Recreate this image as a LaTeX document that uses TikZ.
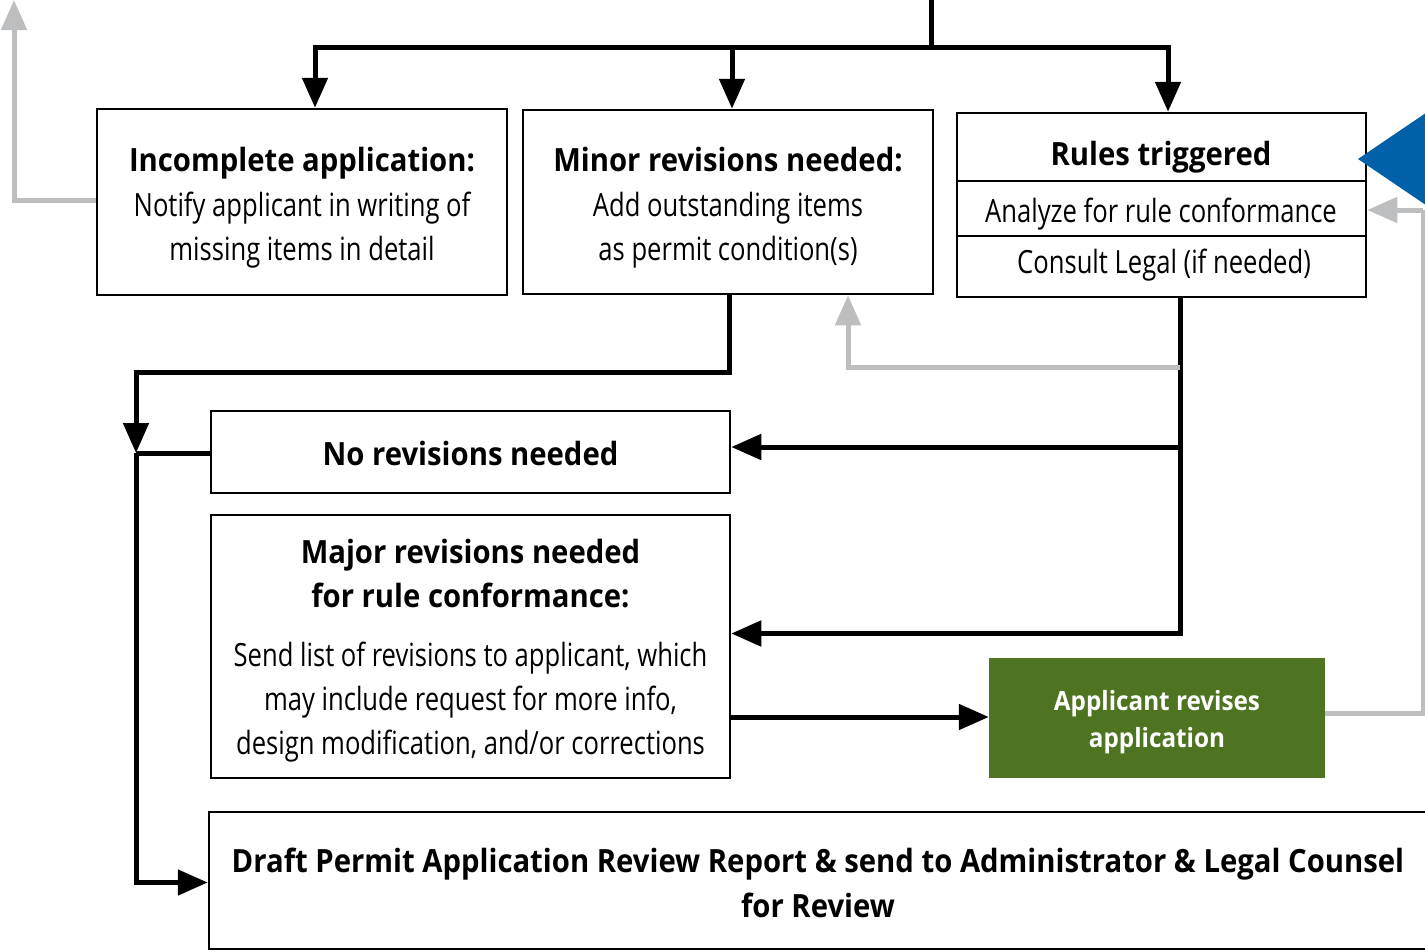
\documentclass[tikz,border=0pt]{standalone}
\usepackage{fontspec}
\setmainfont{Open Sans}
\newfontfamily\hdfont{Open Sans}[FakeStretch=0.915]
\newfontfamily\bdfont{Open Sans}[FakeStretch=0.80]
\newcommand\mytitle[1]{{\hdfont\bfseries #1}}
\usetikzlibrary{arrows.meta,calc}
\definecolor{grn}{HTML}{4E7421}
\definecolor{gry}{HTML}{BDBEC0}
\definecolor{blu}{HTML}{0060A8}
\begin{document}
\begin{tikzpicture}[x=1pt,y=-1pt,
  box/.style={draw,line width=2.5pt,inner sep=0pt},
  txt/.style={align=center,inner sep=0pt,font=\fontsize{32}{44}\selectfont\bdfont},
  htxt/.style={align=center,inner sep=0pt,font=\fontsize{32}{44}\selectfont\hdfont\bfseries},
  ln/.style={line width=5pt},
  conn/.style={line width=5pt,-{Triangle[length=30pt,width=25pt]}},
  gconn/.style={line width=5pt,draw=gry,-{Triangle[length=30pt,width=25pt,color=gry]}},
  gln/.style={line width=5pt,draw=gry}
]
\useasboundingbox (0,0) rectangle (1425,951);

% boxes
\node[box,minimum width=410pt,minimum height=186pt] (inc) at (302,202) {};
\node[txt] (inctxt) at (302,207.5)
  {\mytitle{Incomplete application:}\\[1pt]Notify applicant in writing of\\missing items in detail};
\node[box,minimum width=410pt,minimum height=184pt] (minor) at (728,202) {};
\node[txt] (minortxt) at (728,207.5)
  {\mytitle{Minor revisions needed:}\\[1pt]Add outstanding items\\as permit condition(s)};
\node[box,minimum width=409pt,minimum height=184pt] (rules) at (1161.5,205) {};
\draw[line width=1.5pt] (957,181) -- (1366,181);
\draw[line width=1.5pt] (957,236) -- (1366,236);
\node[htxt,anchor=base] (rt) at (1161,165) {Rules triggered};
\node[txt,anchor=base] (ra) at (1161,222) {Analyze for rule conformance};
\node[txt,anchor=base] (rc) at (1164,273) {Consult Legal (if needed)};

\node[box,minimum width=519pt,minimum height=82pt] (norev) at (470.5,452) {};
\node[htxt] (norevtxt) at (470.5,453) {No revisions needed};
\node[box,minimum width=519pt,minimum height=263pt] (major) at (470.5,646.5) {};
\node[txt] (majortxt) at (470.5,651)
  {\mytitle{Major revisions needed}\\\mytitle{for rule conformance:}\\[15pt]Send list of revisions to applicant, which\\may include request for more info,\\design modification, and/or corrections};
\node[fill=grn,inner sep=0pt,minimum width=336pt,minimum height=120pt] (app) at (1157,718) {};
\node[htxt,text=white,font=\fontsize{26.5}{37}\selectfont\hdfont\bfseries] (apptxt) at (1157,722.5)
  {Applicant revises\\application};
\node[box,minimum width=1218pt,minimum height=137pt] (draft) at (818,880.5) {};
\node[htxt,font=\fontsize{32}{45}\selectfont\hdfont\bfseries] (drafttxt) at (818,882.5)
  {Draft Permit Application Review Report \& send to Administrator \& Legal Counsel\\for Review};

% blue triangle
\fill[blu] (1358,159) -- (1445,100) -- (1445,218) -- cycle;

% top distribution
\coordinate (topin) at (931,-5);
\coordinate (bus) at (931,47);
\draw[ln] (topin) -- (bus);
\draw[conn] (bus) -| ([xshift=13pt]inc.north);
\draw[conn] (bus) -| ([xshift=4pt]minor.north);
\draw[conn] (bus) -| ([xshift=6.5pt]rules.north);

% gray exit left
\coordinate (exitL) at (14,0);
\draw[gconn] ([yshift=2pt]inc.west) -| (exitL);

% left trunk
\coordinate (j) at (136,453);
\draw[conn] ([xshift=1pt]minor.south) |- (136,372) -- (j);
\draw[ln] ([yshift=-1pt]norev.west) -- (j);
\draw[conn] (j) |- ([yshift=-2pt]draft.west);

% rules trunk
\coordinate (rb) at (1180,447);
\draw[conn] ([xshift=18.5pt]rules.south) |- ([yshift=13pt]major.east);
\draw[conn] (rb) -- (norev.east |- rb);
\coordinate (rg) at (1180,367);
\draw[gconn] (rg) -| ([xshift=120pt]minor.south);

% major to applicant
\draw[conn] (major.east |- 0,717) -- (app.west |- 0,717);

% applicant back to rules
\coordinate (rr) at (1423,210);
\draw[gln] ([yshift=5pt]app.east) -| (rr);
\draw[gconn] (rr) -- (rules.east |- rr);
\end{tikzpicture}
\end{document}
